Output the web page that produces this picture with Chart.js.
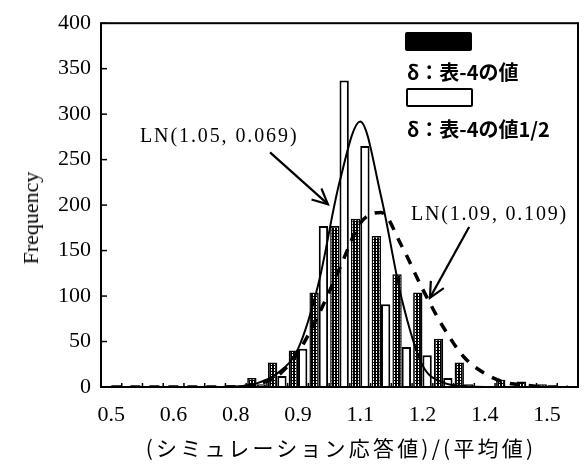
<!DOCTYPE html>
<html><head><meta charset="utf-8">
<script src="https://cdn.jsdelivr.net/npm/chart.js@4.4.1/dist/chart.umd.min.js"></script>
<style>
html,body{margin:0;padding:0;background:#fff;}
#wrap{position:relative;width:585px;height:465px;overflow:hidden;}
canvas{position:absolute;left:0;top:0;}
.lbl{position:absolute;white-space:nowrap;color:#000;line-height:1;}
.serif{font-family:"Liberation Serif","DejaVu Serif",serif;}
.jp{font-family:"Noto Sans CJK JP","Noto Sans",sans-serif;}
.sw{position:absolute;box-sizing:border-box;border:2px solid #000;border-radius:2px;}
</style></head><body>
<div id="wrap"><canvas id="c" width="585" height="465"></canvas></div>
<script>
// ---- data ----
const categories = ['0.50','0.55','0.60','0.65','0.70','0.75','0.80','0.85','0.90','0.95','1.00','1.05','1.10','1.15','1.20','1.25','1.30','1.35','1.40','1.45','1.50','1.55','1.60'];
const xTickLabels = ['0.5','0.6','0.8','0.9','1.1','1.2','1.4','1.5']; // shown every 3rd category
const yTicks = [0,50,100,150,200,250,300,350,400];
const seriesNames = ['δ：表-4の値','δ：表-4の値1/2'];
const freqFull = [0,0,0,0,0,0,2,10,27,40,104,177,185,166,124,104,53,27,0,8,6,3,0];
const freqHalf = [0,0,0,0,0,0,0,3,12,42,177,337,265,91,44,35,10,3,0,0,0,0,0];
const curveNames = ['LN(1.05, 0.069)','LN(1.09, 0.109)'];
const lnSolid = [0,0,0,0,0,0,0.5,4,15,42,115,225,292,210,97,24,5,1,0,0,0,0,0];
const lnDashed = [0,0,0,0,0,0,0,3,12,38,80,130,180,192,155,108,66,33,15,5,2,0,0];
// annotation arrows in (category index, value) coordinates
const arrows = [
  {from:[7.65,258], to:[10.44,201]},
  {from:[17.25,176], to:[15.36,98]}
];

// ---- pattern for dotted bars ----
const tile = document.createElement('canvas');
tile.width = 3; tile.height = 3;
const tc = tile.getContext('2d');
tc.fillStyle = '#000'; tc.fillRect(0,0,3,3);
tc.fillStyle = '#fff'; tc.fillRect(1,0,1,2);
const ctx0 = document.getElementById('c').getContext('2d');
const dotted = ctx0.createPattern(tile,'repeat');

const decor = {
  id:'decor',
  afterDraw(chart){
    const {ctx, chartArea:a, scales:{x,y}} = chart;
    ctx.save();
    ctx.strokeStyle = '#000';
    ctx.lineWidth = 1.5;
    yTicks.forEach(v=>{
      const py = y.getPixelForValue(v);
      ctx.beginPath(); ctx.moveTo(a.left,py); ctx.lineTo(a.left+6,py); ctx.stroke();
    });
    const half = (x.getPixelForValue(1)-x.getPixelForValue(0))/2;
    for(let i=0;i<=categories.length;i++){
      const px = x.getPixelForValue(i)-half;
      ctx.beginPath(); ctx.moveTo(px,a.bottom); ctx.lineTo(px,a.bottom-4); ctx.stroke();
    }
    ctx.lineWidth = 2;
    ctx.strokeRect(a.left,a.top,a.right-a.left,a.bottom-a.top);
    // arrows
    ctx.lineWidth = 2.2;
    arrows.forEach(ar=>{
      const x1=x.getPixelForValue(ar.from[0]), y1=y.getPixelForValue(ar.from[1]);
      const x2=x.getPixelForValue(ar.to[0]), y2=y.getPixelForValue(ar.to[1]);
      const ang=Math.atan2(y2-y1,x2-x1), L=17, w=0.45;
      ctx.beginPath(); ctx.moveTo(x1,y1); ctx.lineTo(x2,y2); ctx.stroke();
      ctx.beginPath();
      ctx.moveTo(x2-L*Math.cos(ang-w), y2-L*Math.sin(ang-w));
      ctx.lineTo(x2,y2);
      ctx.lineTo(x2-L*Math.cos(ang+w), y2-L*Math.sin(ang+w));
      ctx.stroke();
    });
    ctx.restore();
  }
};

const serif = "'Liberation Serif','DejaVu Serif',serif";
const chart = new Chart(ctx0,{
  data:{
    labels:categories,
    datasets:[
      {type:'line',label:curveNames[0],data:lnSolid,borderColor:'#000',borderWidth:2,pointRadius:0,cubicInterpolationMode:'monotone',order:0},
      {type:'line',label:curveNames[1],data:lnDashed,borderColor:'#000',borderWidth:3.5,borderDash:[10,9],pointRadius:0,cubicInterpolationMode:'monotone',order:0},
      {type:'bar',label:seriesNames[0],data:freqFull,backgroundColor:dotted,borderColor:'#000',borderWidth:1.5,barPercentage:1,categoryPercentage:0.9,order:1},
      {type:'bar',label:seriesNames[1],data:freqHalf,backgroundColor:'#fff',borderColor:'#000',borderWidth:2,barPercentage:1,categoryPercentage:0.9,order:1}
    ]
  },
  options:{
    responsive:false, animation:false, devicePixelRatio:1,
    layout:{padding:{top:19,right:7,left:0,bottom:0}},
    plugins:{legend:{display:false},tooltip:{enabled:false}},
    scales:{
      x:{type:'category',offset:true,
        grid:{display:false,drawTicks:false},border:{display:false},
        ticks:{autoSkip:false,maxRotation:0,minRotation:0,padding:15,color:'#000',
          font:{family:serif,size:22},
          callback:(v,i)=> i%3===0 ? xTickLabels[i/3] : ''},
        afterFit:s=>{s.height=78;}
      },
      y:{min:0,max:400,
        grid:{display:false,drawTicks:false},border:{display:false},
        ticks:{stepSize:50,padding:10,color:'#000',font:{family:serif,size:22}},
        afterFit:s=>{s.width=101;}
      }
    }
  },
  plugins:[decor]
});

// ---- text overlays ----
const wrap = document.getElementById('wrap');
function add(txt, cls, style){
  const d=document.createElement('div'); d.className=cls; d.textContent=txt;
  Object.assign(d.style,style); wrap.appendChild(d); return d;
}
add('Frequency','lbl serif',{left:'31px',top:'218px',fontSize:'22px',transform:'translate(-50%,-50%) rotate(-90deg)'});
add('(シミュレーション応答値)/(平均値)','lbl jp',{left:'341px',top:'437px',fontSize:'21px',letterSpacing:'3.2px',transform:'translateX(-50%)'});
add(curveNames[0],'lbl serif',{left:'140px',top:'125px',fontSize:'20px',letterSpacing:'1.9px'});
add(curveNames[1],'lbl serif',{left:'411px',top:'203px',fontSize:'20px',letterSpacing:'1.8px'});
// legend (symbol above text)
const sw1=document.createElement('div'); sw1.className='sw';
Object.assign(sw1.style,{left:'405px',top:'32px',width:'67px',height:'19px',background:'#000'}); wrap.appendChild(sw1);
add(seriesNames[0],'lbl jp',{left:'407px',top:'62px',fontSize:'20px',fontWeight:'bold'});
const sw2=document.createElement('div'); sw2.className='sw';
Object.assign(sw2.style,{left:'406px',top:'88px',width:'67px',height:'19px',background:'#fff'}); wrap.appendChild(sw2);
add(seriesNames[1],'lbl jp',{left:'407px',top:'119px',fontSize:'20px',fontWeight:'bold'});
</script>
</body></html>
